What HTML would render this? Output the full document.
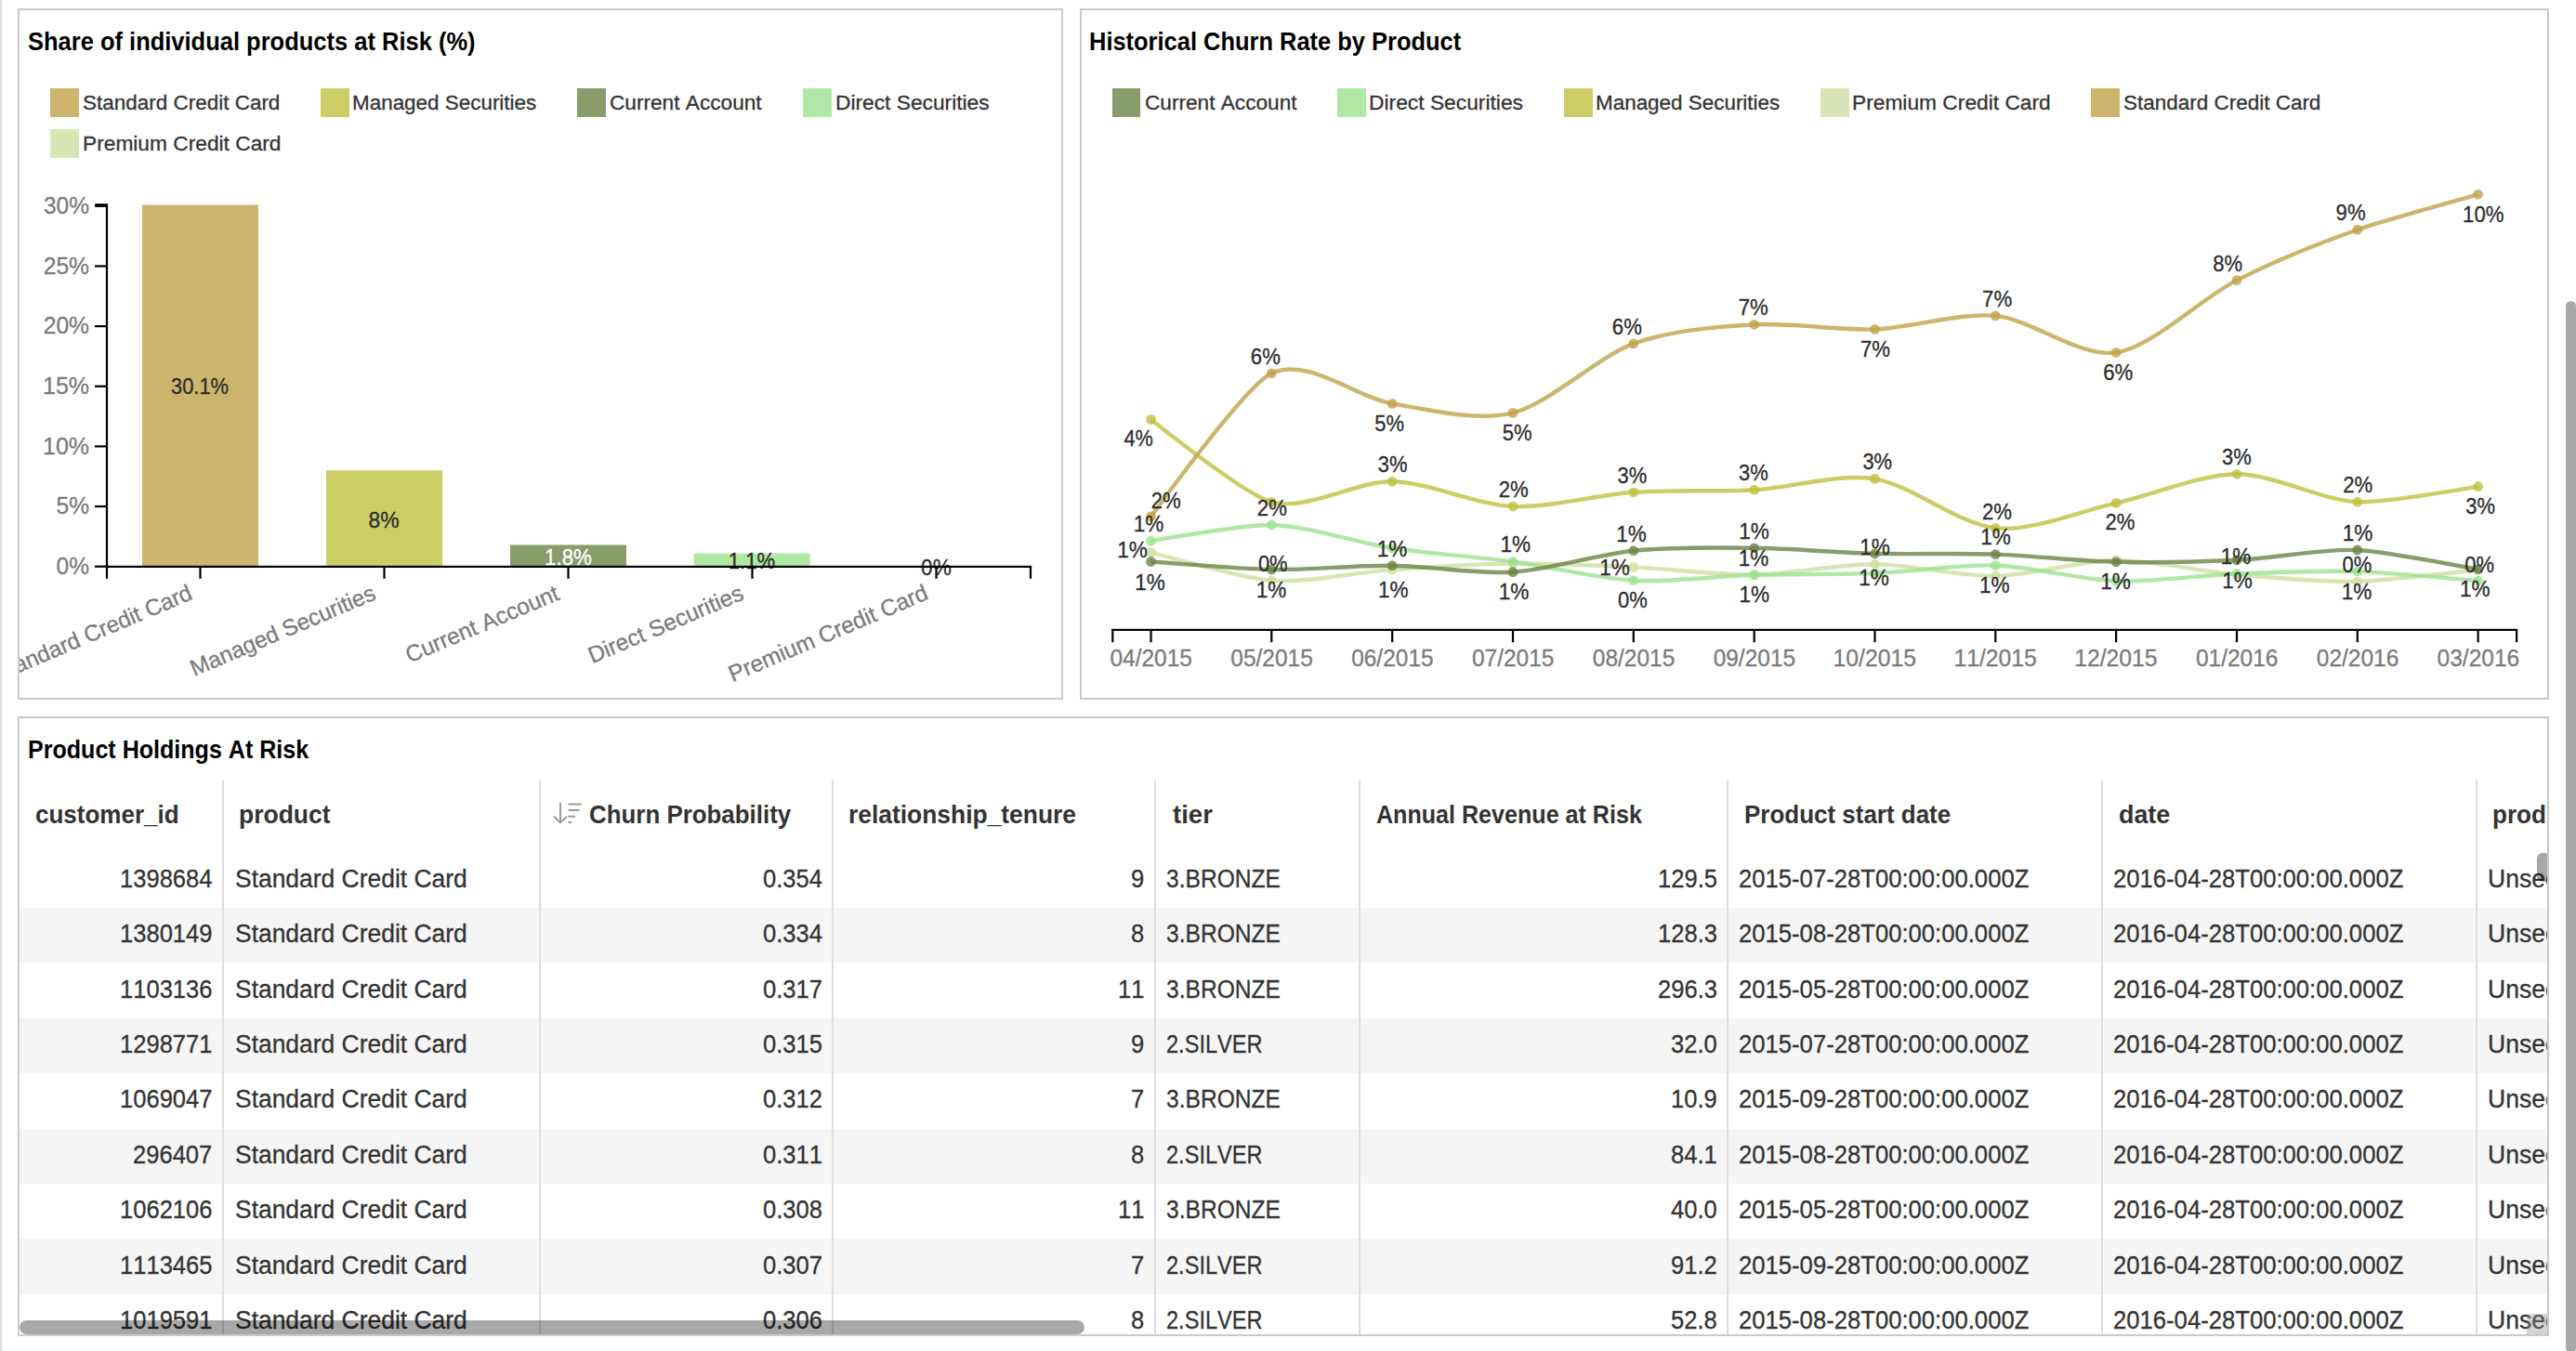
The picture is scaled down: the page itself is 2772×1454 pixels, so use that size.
<!DOCTYPE html>
<html lang="en"><head><meta charset="utf-8"><title>Churn dashboard</title>
<style>
*{box-sizing:border-box}
html,body{margin:0;padding:0}
html{background:#fff}
body{width:2772px;height:1454px;background:#fff;
 font-family:"Liberation Sans",Arial,Helvetica,sans-serif;color:#333;-webkit-font-smoothing:antialiased;font-kerning:none;font-variant-ligatures:none}
.page{position:relative;width:2772px;height:1454px;overflow:hidden;background:#fff}
.edge{position:absolute;left:0;top:0;width:2px;height:1454px;background:#dedede}
.tile{position:absolute;border:2px solid #cacaca;background:#fff;overflow:hidden}
.tile>.in{position:absolute;left:0;top:0;right:0;bottom:0}
.t{position:absolute;white-space:pre;transform-origin:0 50%;margin:0;font-weight:400;-webkit-text-stroke:.3px currentColor}
h2.t,.th .t{-webkit-text-stroke:0}
.chart text{stroke-width:.3px}
.vlab text{stroke:#2c2c2c;fill:#2c2c2c}
.vlab text.inv{stroke:#fff;fill:#fff}
.ylab text,.xlab text{stroke:#7b7b7b}
h2.t{color:#000}
.legend{list-style:none;margin:0;padding:0}
.legend li{display:block}
.sw{position:absolute;width:31px;height:31px}
.chart{position:absolute;left:0;top:0;font-family:"Liberation Sans",Arial,Helvetica,sans-serif;font-kerning:none}
.grid{position:absolute;overflow:hidden}
.thead,.tr{position:absolute;left:0;width:100%}
.thead{top:0}
.tr.even{background:#f5f5f5}
.th,.td{position:absolute;top:0;height:100%;overflow:hidden}
.sep{position:absolute;top:0;bottom:0;width:2px;background:#dedede}
.sort{position:absolute;left:13px;top:23.4px}
.hthumb{position:absolute;height:15px;border-radius:7.5px;background:rgba(0,0,0,.34)}
.vthumb{position:absolute;width:14px;height:31px;border-radius:6px;background:rgba(0,0,0,.34)}
.corner{position:absolute;width:22px;height:22px;background:rgba(141,141,141,.38)}
.pagebar{position:absolute;left:2761px;top:324px;width:11px;height:1132px;border-radius:5.5px;background:#a8a8a8}
</style></head><body><main class="page">
<div class="edge"></div>
<section class="tile" id="tile-share" style="left:19px;top:9px;width:1125px;height:744px"><div class="in">
<h2 class="t" style="left:9.37px;top:18px;font-size:26.8px;line-height:32px;transform:scaleX(0.9512);font-weight:700;color:#000;">Share of individual products at Risk (%)</h2>
<ul class="legend">
<li><i class="sw" style="left:33px;top:84px;background:#cdb56d"></i><span class="t" style="left:68.28px;top:85px;font-size:22.7px;line-height:28px;transform:scaleX(0.9906);">Standard Credit Card</span></li>
<li><i class="sw" style="left:324px;top:84px;background:#cccd66"></i><span class="t" style="left:358.36px;top:85px;font-size:22.7px;line-height:28px;transform:scaleX(0.9886);">Managed Securities</span></li>
<li><i class="sw" style="left:600px;top:84px;background:#899c6b"></i><span class="t" style="left:635.15px;top:85px;font-size:22.7px;line-height:28px;transform:scaleX(0.9981);">Current Account</span></li>
<li><i class="sw" style="left:843px;top:84px;background:#b0e8a6"></i><span class="t" style="left:877.63px;top:85px;font-size:22.7px;line-height:28px;transform:scaleX(1.0027);">Direct Securities</span></li>
<li><i class="sw" style="left:33px;top:128px;background:#dae5b5"></i><span class="t" style="left:67.73px;top:129px;font-size:22.7px;line-height:28px;transform:scaleX(1.0021);">Premium Credit Card</span></li>
</ul>
<svg class="chart" width="1121" height="740" viewBox="21 11 1121 740" role="img" aria-label="Share of individual products at Risk">
<g class="bars">
<rect x="153" y="220.51" width="125" height="389.69" fill="#cdb56d"/>
<rect x="351" y="506.26" width="125" height="103.94" fill="#cccd66"/>
<rect x="549" y="586.43" width="125" height="23.77" fill="#899c6b"/>
<rect x="746.7" y="595.48" width="125" height="14.72" fill="#b0e8a6"/>
</g>
<g class="ylab" fill="#7b7b7b">
<text font-size="25.4" transform="translate(60.54,617.90) scale(0.9680,1)">0%</text>
<text font-size="25.4" transform="translate(60.51,553.25) scale(0.9687,1)">5%</text>
<text font-size="25.4" transform="translate(45.99,488.60) scale(0.9855,1)">10%</text>
<text font-size="25.4" transform="translate(45.99,423.95) scale(0.9855,1)">15%</text>
<text font-size="25.4" transform="translate(46.66,359.30) scale(0.9722,1)">20%</text>
<text font-size="25.4" transform="translate(46.66,294.65) scale(0.9722,1)">25%</text>
<text font-size="25.4" transform="translate(46.97,230.00) scale(0.9660,1)">30%</text>
</g>
<g class="xlab" fill="#7b7b7b">
<text font-size="24.7" transform="translate(207.10,644.80) rotate(-23) scale(0.9814,1)" x="-231.80" y="0">Standard Credit Card</text>
<text font-size="24.7" transform="translate(405.10,644.80) rotate(-23) scale(0.9795,1)" x="-217.42" y="0">Managed Securities</text>
<text font-size="24.7" transform="translate(603.10,644.80) rotate(-23) scale(0.9895,1)" x="-178.29" y="0">Current Account</text>
<text font-size="24.7" transform="translate(801.10,644.80) rotate(-23) scale(0.9952,1)" x="-178.92" y="0">Direct Securities</text>
<text font-size="24.7" transform="translate(999.10,644.80) rotate(-23) scale(0.9938,1)" x="-230.37" y="0">Premium Credit Card</text>
</g>
<g class="vlab" fill="#333">
<text font-size="23.4" transform="translate(183.97,424.00) scale(0.9362,1)">30.1%</text>
<text font-size="23.4" transform="translate(396.55,567.60) scale(0.9791,1)">8%</text>
<text class="inv" fill="#fff" font-size="23.4" transform="translate(586.11,607.80) scale(0.9503,1)">1.8%</text>
<text font-size="23.4" transform="translate(783.81,611.70) scale(0.9464,1)">1.1%</text>
<text font-size="23.4" transform="translate(991.12,618.80) scale(0.9666,1)">0%</text>
</g>
<g class="axis" fill="#000">
<rect x="113.9" y="219.2" width="2.2" height="391.8"/>
<rect x="102" y="219.2" width="12" height="2.2"/>
<rect x="102" y="608.60" width="13" height="2.2"/>
<rect x="102" y="543.95" width="13" height="2.2"/>
<rect x="102" y="479.30" width="13" height="2.2"/>
<rect x="102" y="414.65" width="13" height="2.2"/>
<rect x="102" y="350.00" width="13" height="2.2"/>
<rect x="102" y="285.35" width="13" height="2.2"/>
<rect x="102" y="220.70" width="13" height="2.2"/>
<rect x="113.9" y="608.8" width="996.2" height="2.2"/>
<rect x="113.9" y="609" width="2.2" height="13.8"/>
<rect x="1107.9" y="609" width="2.2" height="13.8"/>
<rect x="214.4" y="609" width="2.2" height="13.8"/>
<rect x="412.4" y="609" width="2.2" height="13.8"/>
<rect x="610.4" y="609" width="2.2" height="13.8"/>
<rect x="808.4" y="609" width="2.2" height="13.8"/>
<rect x="1006.4" y="609" width="2.2" height="13.8"/>
</g>
</svg>
</div></section>
<section class="tile" id="tile-history" style="left:1162px;top:9px;width:1581px;height:744px"><div class="in">
<h2 class="t" style="left:7.60px;top:18px;font-size:26.8px;line-height:32px;transform:scaleX(0.9497);font-weight:700;color:#000;">Historical Churn Rate by Product</h2>
<ul class="legend">
<li><i class="sw" style="left:33px;top:84px;width:30px;background:#899c6b"></i><span class="t" style="left:67.75px;top:85px;font-size:22.7px;line-height:28px;transform:scaleX(0.9975);">Current Account</span></li>
<li><i class="sw" style="left:275px;top:84px;background:#b0e8a6"></i><span class="t" style="left:309.33px;top:85px;font-size:22.7px;line-height:28px;transform:scaleX(1.0051);">Direct Securities</span></li>
<li><i class="sw" style="left:519px;top:84px;background:#cccd66"></i><span class="t" style="left:553.16px;top:85px;font-size:22.7px;line-height:28px;transform:scaleX(0.9886);">Managed Securities</span></li>
<li><i class="sw" style="left:795px;top:84px;background:#dae5b5"></i><span class="t" style="left:829.43px;top:85px;font-size:22.7px;line-height:28px;transform:scaleX(1.0031);">Premium Credit Card</span></li>
<li><i class="sw" style="left:1086px;top:84px;background:#cdb56d"></i><span class="t" style="left:1120.98px;top:85px;font-size:22.7px;line-height:28px;transform:scaleX(0.9906);">Standard Credit Card</span></li>
</ul>
<svg class="chart" width="1577" height="740" viewBox="1164 11 1577 740" role="img" aria-label="Historical Churn Rate by Product">
<g class="serie" fill="#d1dea2" stroke="#d1dea2">
<path d="M1238.5,594.5Q1342.4,622.9,1368.3,624.8C1407.3,627.6,1459.2,615.8,1498.2,613.1S1589.0,606.9,1628.0,606.5S1718.9,608.6,1757.8,610.4S1848.7,618.9,1887.7,618.4S1978.5,607.0,2017.5,607.2S2108.4,620.5,2147.3,619.9S2238.2,603.2,2277.1,603.0S2368.0,615.0,2407.0,618.4S2497.9,626.6,2536.8,625.8Q2562.8,625.3,2666.6,613.2" fill="none" stroke-width="4.4" stroke-opacity="0.8"/>
<circle cx="1238.5" cy="594.5" r="5.4" stroke="none" fill-opacity="0.8"/>
<circle cx="1368.3" cy="624.8" r="5.4" stroke="none" fill-opacity="0.8"/>
<circle cx="1498.2" cy="613.1" r="5.4" stroke="none" fill-opacity="0.8"/>
<circle cx="1628.0" cy="606.5" r="5.4" stroke="none" fill-opacity="0.8"/>
<circle cx="1757.8" cy="610.4" r="5.4" stroke="none" fill-opacity="0.8"/>
<circle cx="1887.7" cy="618.4" r="5.4" stroke="none" fill-opacity="0.8"/>
<circle cx="2017.5" cy="607.2" r="5.4" stroke="none" fill-opacity="0.8"/>
<circle cx="2147.3" cy="619.9" r="5.4" stroke="none" fill-opacity="0.8"/>
<circle cx="2277.1" cy="603.0" r="5.4" stroke="none" fill-opacity="0.8"/>
<circle cx="2407.0" cy="618.4" r="5.4" stroke="none" fill-opacity="0.8"/>
<circle cx="2536.8" cy="625.8" r="5.4" stroke="none" fill-opacity="0.8"/>
<circle cx="2666.6" cy="613.2" r="5.4" stroke="none" fill-opacity="0.8"/>
</g>
<g class="serie" fill="#9ce290" stroke="#9ce290">
<path d="M1238.5,582.2Q1342.4,564.2,1368.3,565.0C1407.3,566.1,1459.2,583.9,1498.2,589.8S1589.0,599.3,1628.0,604.5S1718.9,622.6,1757.8,624.7S1848.7,620.0,1887.7,618.8S1978.5,618.4,2017.5,616.9S2108.4,607.2,2147.3,608.5S2238.2,623.9,2277.1,625.3S2368.0,619.0,2407.0,617.5S2497.9,613.9,2536.8,615.0Q2562.8,615.8,2666.6,625.1" fill="none" stroke-width="4.4" stroke-opacity="0.8"/>
<circle cx="1238.5" cy="582.2" r="5.4" stroke="none" fill-opacity="0.8"/>
<circle cx="1368.3" cy="565.0" r="5.4" stroke="none" fill-opacity="0.8"/>
<circle cx="1498.2" cy="589.8" r="5.4" stroke="none" fill-opacity="0.8"/>
<circle cx="1628.0" cy="604.5" r="5.4" stroke="none" fill-opacity="0.8"/>
<circle cx="1757.8" cy="624.7" r="5.4" stroke="none" fill-opacity="0.8"/>
<circle cx="1887.7" cy="618.8" r="5.4" stroke="none" fill-opacity="0.8"/>
<circle cx="2017.5" cy="616.9" r="5.4" stroke="none" fill-opacity="0.8"/>
<circle cx="2147.3" cy="608.5" r="5.4" stroke="none" fill-opacity="0.8"/>
<circle cx="2277.1" cy="625.3" r="5.4" stroke="none" fill-opacity="0.8"/>
<circle cx="2407.0" cy="617.5" r="5.4" stroke="none" fill-opacity="0.8"/>
<circle cx="2536.8" cy="615.0" r="5.4" stroke="none" fill-opacity="0.8"/>
<circle cx="2666.6" cy="625.1" r="5.4" stroke="none" fill-opacity="0.8"/>
</g>
<g class="serie" fill="#6c8346" stroke="#6c8346">
<path d="M1238.5,604.5Q1342.4,612.6,1368.3,613.0C1407.3,613.6,1459.2,608.3,1498.2,608.7S1589.0,618.1,1628.0,615.7S1718.9,596.6,1757.8,592.7S1848.7,589.3,1887.7,589.8S1978.5,594.8,2017.5,595.8S2108.4,595.2,2147.3,596.6S2238.2,603.9,2277.1,604.8S2368.0,604.7,2407.0,602.8S2497.9,590.5,2536.8,592.0Q2562.8,593.0,2666.6,612.8" fill="none" stroke-width="4.4" stroke-opacity="0.8"/>
<circle cx="1238.5" cy="604.5" r="5.4" stroke="none" fill-opacity="0.8"/>
<circle cx="1368.3" cy="613.0" r="5.4" stroke="none" fill-opacity="0.8"/>
<circle cx="1498.2" cy="608.7" r="5.4" stroke="none" fill-opacity="0.8"/>
<circle cx="1628.0" cy="615.7" r="5.4" stroke="none" fill-opacity="0.8"/>
<circle cx="1757.8" cy="592.7" r="5.4" stroke="none" fill-opacity="0.8"/>
<circle cx="1887.7" cy="589.8" r="5.4" stroke="none" fill-opacity="0.8"/>
<circle cx="2017.5" cy="595.8" r="5.4" stroke="none" fill-opacity="0.8"/>
<circle cx="2147.3" cy="596.6" r="5.4" stroke="none" fill-opacity="0.8"/>
<circle cx="2277.1" cy="604.8" r="5.4" stroke="none" fill-opacity="0.8"/>
<circle cx="2407.0" cy="602.8" r="5.4" stroke="none" fill-opacity="0.8"/>
<circle cx="2536.8" cy="592.0" r="5.4" stroke="none" fill-opacity="0.8"/>
<circle cx="2666.6" cy="612.8" r="5.4" stroke="none" fill-opacity="0.8"/>
</g>
<g class="serie" fill="#bfc040" stroke="#bfc040">
<path d="M1238.5,451.5Q1342.4,533.6,1368.3,540.3C1407.3,550.3,1459.2,517.6,1498.2,518.3S1589.0,543.3,1628.0,545.0S1718.9,532.5,1757.8,529.8S1848.7,529.4,1887.7,527.2S1978.5,509.2,2017.5,515.4S2108.4,564.5,2147.3,568.4S2238.2,550.1,2277.1,541.4S2368.0,510.5,2407.0,510.3S2497.9,538.2,2536.8,540.2Q2562.8,541.5,2666.6,523.7" fill="none" stroke-width="4.4" stroke-opacity="0.8"/>
<circle cx="1238.5" cy="451.5" r="5.4" stroke="none" fill-opacity="0.8"/>
<circle cx="1368.3" cy="540.3" r="5.4" stroke="none" fill-opacity="0.8"/>
<circle cx="1498.2" cy="518.3" r="5.4" stroke="none" fill-opacity="0.8"/>
<circle cx="1628.0" cy="545.0" r="5.4" stroke="none" fill-opacity="0.8"/>
<circle cx="1757.8" cy="529.8" r="5.4" stroke="none" fill-opacity="0.8"/>
<circle cx="1887.7" cy="527.2" r="5.4" stroke="none" fill-opacity="0.8"/>
<circle cx="2017.5" cy="515.4" r="5.4" stroke="none" fill-opacity="0.8"/>
<circle cx="2147.3" cy="568.4" r="5.4" stroke="none" fill-opacity="0.8"/>
<circle cx="2277.1" cy="541.4" r="5.4" stroke="none" fill-opacity="0.8"/>
<circle cx="2407.0" cy="510.3" r="5.4" stroke="none" fill-opacity="0.8"/>
<circle cx="2536.8" cy="540.2" r="5.4" stroke="none" fill-opacity="0.8"/>
<circle cx="2666.6" cy="523.7" r="5.4" stroke="none" fill-opacity="0.8"/>
</g>
<g class="serie" fill="#c0a248" stroke="#c0a248">
<path d="M1238.5,556.0Q1342.4,414.0,1368.3,401.8C1407.3,383.6,1459.2,428.0,1498.2,434.4S1589.0,454.1,1628.0,444.4S1718.9,384.2,1757.8,369.9S1848.7,351.6,1887.7,349.3S1978.5,355.8,2017.5,354.4S2108.4,336.1,2147.3,339.9S2238.2,385.1,2277.1,379.4S2368.0,321.4,2407.0,301.6S2497.9,261.0,2536.8,247.2Q2562.8,238.0,2666.6,209.3" fill="none" stroke-width="4.4" stroke-opacity="0.8"/>
<circle cx="1238.5" cy="556.0" r="5.4" stroke="none" fill-opacity="0.8"/>
<circle cx="1368.3" cy="401.8" r="5.4" stroke="none" fill-opacity="0.8"/>
<circle cx="1498.2" cy="434.4" r="5.4" stroke="none" fill-opacity="0.8"/>
<circle cx="1628.0" cy="444.4" r="5.4" stroke="none" fill-opacity="0.8"/>
<circle cx="1757.8" cy="369.9" r="5.4" stroke="none" fill-opacity="0.8"/>
<circle cx="1887.7" cy="349.3" r="5.4" stroke="none" fill-opacity="0.8"/>
<circle cx="2017.5" cy="354.4" r="5.4" stroke="none" fill-opacity="0.8"/>
<circle cx="2147.3" cy="339.9" r="5.4" stroke="none" fill-opacity="0.8"/>
<circle cx="2277.1" cy="379.4" r="5.4" stroke="none" fill-opacity="0.8"/>
<circle cx="2407.0" cy="301.6" r="5.4" stroke="none" fill-opacity="0.8"/>
<circle cx="2536.8" cy="247.2" r="5.4" stroke="none" fill-opacity="0.8"/>
<circle cx="2666.6" cy="209.3" r="5.4" stroke="none" fill-opacity="0.8"/>
</g>
<g class="vlab" fill="#333">
<text font-size="23.4" transform="translate(1209.55,480.40) scale(0.9276,1)">4%</text>
<text font-size="23.4" transform="translate(1238.64,547.00) scale(0.9463,1)">2%</text>
<text font-size="23.4" transform="translate(1219.83,572.30) scale(0.9646,1)">1%</text>
<text font-size="23.4" transform="translate(1202.23,600.40) scale(0.9646,1)">1%</text>
<text font-size="23.4" transform="translate(1221.23,634.60) scale(0.9646,1)">1%</text>
<text font-size="23.4" transform="translate(1345.83,392.00) scale(0.9466,1)">6%</text>
<text font-size="23.4" transform="translate(1352.84,555.40) scale(0.9463,1)">2%</text>
<text font-size="23.4" transform="translate(1353.89,615.00) scale(0.9385,1)">0%</text>
<text font-size="23.4" transform="translate(1351.83,642.50) scale(0.9646,1)">1%</text>
<text font-size="23.4" transform="translate(1479.37,464.20) scale(0.9392,1)">5%</text>
<text font-size="23.4" transform="translate(1482.71,508.20) scale(0.9378,1)">3%</text>
<text font-size="23.4" transform="translate(1481.83,599.20) scale(0.9646,1)">1%</text>
<text font-size="23.4" transform="translate(1482.93,642.50) scale(0.9646,1)">1%</text>
<text font-size="23.4" transform="translate(1616.67,473.70) scale(0.9392,1)">5%</text>
<text font-size="23.4" transform="translate(1612.74,535.00) scale(0.9463,1)">2%</text>
<text font-size="23.4" transform="translate(1614.43,594.00) scale(0.9646,1)">1%</text>
<text font-size="23.4" transform="translate(1612.73,645.20) scale(0.9646,1)">1%</text>
<text font-size="23.4" transform="translate(1734.83,360.00) scale(0.9466,1)">6%</text>
<text font-size="23.4" transform="translate(1740.61,519.90) scale(0.9378,1)">3%</text>
<text font-size="23.4" transform="translate(1739.33,582.90) scale(0.9646,1)">1%</text>
<text font-size="23.4" transform="translate(1721.13,618.90) scale(0.9646,1)">1%</text>
<text font-size="23.4" transform="translate(1740.99,653.70) scale(0.9385,1)">0%</text>
<text font-size="23.4" transform="translate(1870.71,339.40) scale(0.9469,1)">7%</text>
<text font-size="23.4" transform="translate(1871.01,517.00) scale(0.9378,1)">3%</text>
<text font-size="23.4" transform="translate(1871.33,580.00) scale(0.9646,1)">1%</text>
<text font-size="23.4" transform="translate(1870.73,608.60) scale(0.9646,1)">1%</text>
<text font-size="23.4" transform="translate(1871.43,648.10) scale(0.9646,1)">1%</text>
<text font-size="23.4" transform="translate(2001.91,383.80) scale(0.9469,1)">7%</text>
<text font-size="23.4" transform="translate(2004.41,504.80) scale(0.9378,1)">3%</text>
<text font-size="23.4" transform="translate(2001.23,596.90) scale(0.9646,1)">1%</text>
<text font-size="23.4" transform="translate(2000.23,630.40) scale(0.9646,1)">1%</text>
<text font-size="23.4" transform="translate(2133.11,329.90) scale(0.9469,1)">7%</text>
<text font-size="23.4" transform="translate(2132.94,558.70) scale(0.9463,1)">2%</text>
<text font-size="23.4" transform="translate(2131.13,586.30) scale(0.9646,1)">1%</text>
<text font-size="23.4" transform="translate(2130.03,638.40) scale(0.9646,1)">1%</text>
<text font-size="23.4" transform="translate(2263.23,409.20) scale(0.9466,1)">6%</text>
<text font-size="23.4" transform="translate(2265.54,570.10) scale(0.9463,1)">2%</text>
<text font-size="23.4" transform="translate(2260.33,634.20) scale(0.9646,1)">1%</text>
<text font-size="23.4" transform="translate(2381.19,292.40) scale(0.9415,1)">8%</text>
<text font-size="23.4" transform="translate(2391.11,500.10) scale(0.9378,1)">3%</text>
<text font-size="23.4" transform="translate(2389.83,607.40) scale(0.9646,1)">1%</text>
<text font-size="23.4" transform="translate(2391.23,632.50) scale(0.9646,1)">1%</text>
<text font-size="23.4" transform="translate(2513.61,237.30) scale(0.9439,1)">9%</text>
<text font-size="23.4" transform="translate(2521.14,530.10) scale(0.9463,1)">2%</text>
<text font-size="23.4" transform="translate(2520.83,582.20) scale(0.9646,1)">1%</text>
<text font-size="23.4" transform="translate(2520.59,615.90) scale(0.9385,1)">0%</text>
<text font-size="23.4" transform="translate(2519.73,645.10) scale(0.9646,1)">1%</text>
<text font-size="23.4" transform="translate(2650.06,238.60) scale(0.9476,1)">10%</text>
<text font-size="23.4" transform="translate(2653.21,553.00) scale(0.9378,1)">3%</text>
<text font-size="23.4" transform="translate(2652.29,615.90) scale(0.9385,1)">0%</text>
<text font-size="23.4" transform="translate(2646.93,642.30) scale(0.9646,1)">1%</text>
</g>
<g class="axis" fill="#000">
<rect x="1196.2" y="676.8" width="1513.0" height="2.2"/>
<rect x="1196.2" y="677" width="2.2" height="14.2"/>
<rect x="2707" y="677" width="2.2" height="14.2"/>
<rect x="1237.4" y="677" width="2.2" height="14.2"/>
<rect x="1367.2" y="677" width="2.2" height="14.2"/>
<rect x="1497.1" y="677" width="2.2" height="14.2"/>
<rect x="1626.9" y="677" width="2.2" height="14.2"/>
<rect x="1756.7" y="677" width="2.2" height="14.2"/>
<rect x="1886.6" y="677" width="2.2" height="14.2"/>
<rect x="2016.4" y="677" width="2.2" height="14.2"/>
<rect x="2146.2" y="677" width="2.2" height="14.2"/>
<rect x="2276.0" y="677" width="2.2" height="14.2"/>
<rect x="2405.9" y="677" width="2.2" height="14.2"/>
<rect x="2535.7" y="677" width="2.2" height="14.2"/>
<rect x="2665.5" y="677" width="2.2" height="14.2"/>
</g>
<g class="xlab" fill="#7b7b7b">
<text font-size="25.4" transform="translate(1194.49,716.90) scale(0.9637,1)">04/2015</text>
<text font-size="25.4" transform="translate(1324.32,716.90) scale(0.9637,1)">05/2015</text>
<text font-size="25.4" transform="translate(1454.15,716.90) scale(0.9637,1)">06/2015</text>
<text font-size="25.4" transform="translate(1583.98,716.90) scale(0.9637,1)">07/2015</text>
<text font-size="25.4" transform="translate(1713.81,716.90) scale(0.9637,1)">08/2015</text>
<text font-size="25.4" transform="translate(1843.64,716.90) scale(0.9637,1)">09/2015</text>
<text font-size="25.4" transform="translate(1972.55,716.90) scale(0.9740,1)">10/2015</text>
<text font-size="25.4" transform="translate(2102.38,716.90) scale(0.9740,1)">11/2015</text>
<text font-size="25.4" transform="translate(2232.21,716.90) scale(0.9740,1)">12/2015</text>
<text font-size="25.4" transform="translate(2362.96,716.90) scale(0.9643,1)">01/2016</text>
<text font-size="25.4" transform="translate(2492.79,716.90) scale(0.9643,1)">02/2016</text>
<text font-size="25.4" transform="translate(2622.62,716.90) scale(0.9643,1)">03/2016</text>
</g>
</svg>
</div></section>
<section class="tile" id="tile-holdings" style="left:19px;top:771px;width:2724px;height:667px"><div class="in">
<h2 class="t" style="left:8.62px;top:18px;font-size:26.8px;line-height:32px;transform:scaleX(0.9352);font-weight:700;color:#000;">Product Holdings At Risk</h2>
<div class="grid" style="left:0px;top:65.6px;width:2720px;height:597.4px">
<div class="thead" style="height:79.0px">
<div class="th" style="left:0.0px;width:219.0px"><span class="t" style="left:16.98px;top:22.4px;font-size:26.8px;line-height:32px;transform:scaleX(0.9703);font-weight:700;">customer_id</span></div>
<div class="th" style="left:219.0px;width:341.0px"><span class="t" style="left:17.35px;top:22.4px;font-size:26.8px;line-height:32px;transform:scaleX(0.9883);font-weight:700;">product</span></div>
<div class="th" style="left:560.0px;width:315.0px"><svg class="sort" width="34" height="26" viewBox="594 862 34 26" aria-hidden="true"><g fill="none" stroke="#999" stroke-width="2" stroke-linecap="round" stroke-linejoin="round"><path d="M603 864.8V885M596.6 879.2L603 885.4L609.4 879.2"/><path d="M612.2 865.5H625M612.2 872.1H622.8M612.2 878.7H618.2M612.2 885.1H614"/></g></svg><span class="t" style="left:53.24px;top:22.4px;font-size:26.8px;line-height:32px;transform:scaleX(0.9661);font-weight:700;">Churn Probability</span></div>
<div class="th" style="left:875.0px;width:347.0px"><span class="t" style="left:16.86px;top:22.4px;font-size:26.8px;line-height:32px;transform:scaleX(0.9853);font-weight:700;">relationship_tenure</span></div>
<div class="th" style="left:1222.0px;width:220.0px"><span class="t" style="left:18.76px;top:22.4px;font-size:26.8px;line-height:32px;transform:scaleX(1.0275);font-weight:700;">tier</span></div>
<div class="th" style="left:1442.0px;width:396.0px"><span class="t" style="left:17.78px;top:22.4px;font-size:26.8px;line-height:32px;transform:scaleX(0.9364);font-weight:700;">Annual Revenue at Risk</span></div>
<div class="th" style="left:1838.0px;width:403.0px"><span class="t" style="left:17.86px;top:22.4px;font-size:26.8px;line-height:32px;transform:scaleX(0.9690);font-weight:700;">Product start date</span></div>
<div class="th" style="left:2241.0px;width:402.6px"><span class="t" style="left:17.70px;top:22.4px;font-size:26.8px;line-height:32px;transform:scaleX(1.0021);font-weight:700;">date</span></div>
<div class="th" style="left:2643.6px;width:76.4px"><span class="t" style="left:17.48px;top:22.4px;font-size:26.8px;line-height:32px;transform:scaleX(0.9720);font-weight:700;">product_type</span></div>
</div>
<div class="tr odd" style="top:79.0px;height:59.4px">
<div class="td" style="left:0.0px;width:219.0px"><span class="t" style="left:107.97px;top:12.4px;font-size:26.8px;line-height:32px;transform:scaleX(0.9540);">1398684</span></div>
<div class="td" style="left:219.0px;width:341.0px"><span class="t" style="left:12.60px;top:12.4px;font-size:26.8px;line-height:32px;transform:scaleX(0.9864);">Standard Credit Card</span></div>
<div class="td" style="left:560.0px;width:315.0px"><span class="t" style="left:239.52px;top:12.4px;font-size:26.8px;line-height:32px;transform:scaleX(0.9540);">0.354</span></div>
<div class="td" style="left:875.0px;width:347.0px"><span class="t" style="left:321.28px;top:12.4px;font-size:26.8px;line-height:32px;transform:scaleX(0.9540);">9</span></div>
<div class="td" style="left:1222.0px;width:220.0px"><span class="t" style="left:12.16px;top:12.4px;font-size:26.8px;line-height:32px;transform:scaleX(0.9177);">3.BRONZE</span></div>
<div class="td" style="left:1442.0px;width:396.0px"><span class="t" style="left:320.52px;top:12.4px;font-size:26.8px;line-height:32px;transform:scaleX(0.9540);">129.5</span></div>
<div class="td" style="left:1838.0px;width:403.0px"><span class="t" style="left:11.61px;top:12.4px;font-size:26.8px;line-height:32px;transform:scaleX(0.9573);">2015-07-28T00:00:00.000Z</span></div>
<div class="td" style="left:2241.0px;width:402.6px"><span class="t" style="left:11.61px;top:12.4px;font-size:26.8px;line-height:32px;transform:scaleX(0.9573);">2016-04-28T00:00:00.000Z</span></div>
<div class="td" style="left:2643.6px;width:76.4px"><span class="t" style="left:11.95px;top:12.4px;font-size:26.8px;line-height:32px;transform:scaleX(0.9900);">Unsecured Lending</span></div>
</div>
<div class="tr even" style="top:138.4px;height:59.4px">
<div class="td" style="left:0.0px;width:219.0px"><span class="t" style="left:107.97px;top:12px;font-size:26.8px;line-height:32px;transform:scaleX(0.9540);">1380149</span></div>
<div class="td" style="left:219.0px;width:341.0px"><span class="t" style="left:12.60px;top:12px;font-size:26.8px;line-height:32px;transform:scaleX(0.9864);">Standard Credit Card</span></div>
<div class="td" style="left:560.0px;width:315.0px"><span class="t" style="left:239.52px;top:12px;font-size:26.8px;line-height:32px;transform:scaleX(0.9540);">0.334</span></div>
<div class="td" style="left:875.0px;width:347.0px"><span class="t" style="left:321.28px;top:12px;font-size:26.8px;line-height:32px;transform:scaleX(0.9540);">8</span></div>
<div class="td" style="left:1222.0px;width:220.0px"><span class="t" style="left:12.16px;top:12px;font-size:26.8px;line-height:32px;transform:scaleX(0.9177);">3.BRONZE</span></div>
<div class="td" style="left:1442.0px;width:396.0px"><span class="t" style="left:320.52px;top:12px;font-size:26.8px;line-height:32px;transform:scaleX(0.9540);">128.3</span></div>
<div class="td" style="left:1838.0px;width:403.0px"><span class="t" style="left:11.61px;top:12px;font-size:26.8px;line-height:32px;transform:scaleX(0.9573);">2015-08-28T00:00:00.000Z</span></div>
<div class="td" style="left:2241.0px;width:402.6px"><span class="t" style="left:11.61px;top:12px;font-size:26.8px;line-height:32px;transform:scaleX(0.9573);">2016-04-28T00:00:00.000Z</span></div>
<div class="td" style="left:2643.6px;width:76.4px"><span class="t" style="left:11.95px;top:12px;font-size:26.8px;line-height:32px;transform:scaleX(0.9900);">Unsecured Lending</span></div>
</div>
<div class="tr odd" style="top:197.8px;height:59.4px">
<div class="td" style="left:0.0px;width:219.0px"><span class="t" style="left:107.97px;top:12.6px;font-size:26.8px;line-height:32px;transform:scaleX(0.9540);">1103136</span></div>
<div class="td" style="left:219.0px;width:341.0px"><span class="t" style="left:12.60px;top:12.6px;font-size:26.8px;line-height:32px;transform:scaleX(0.9864);">Standard Credit Card</span></div>
<div class="td" style="left:560.0px;width:315.0px"><span class="t" style="left:239.52px;top:12.6px;font-size:26.8px;line-height:32px;transform:scaleX(0.9540);">0.317</span></div>
<div class="td" style="left:875.0px;width:347.0px"><span class="t" style="left:307.06px;top:12.6px;font-size:26.8px;line-height:32px;transform:scaleX(0.9540);">11</span></div>
<div class="td" style="left:1222.0px;width:220.0px"><span class="t" style="left:12.16px;top:12.6px;font-size:26.8px;line-height:32px;transform:scaleX(0.9177);">3.BRONZE</span></div>
<div class="td" style="left:1442.0px;width:396.0px"><span class="t" style="left:320.52px;top:12.6px;font-size:26.8px;line-height:32px;transform:scaleX(0.9540);">296.3</span></div>
<div class="td" style="left:1838.0px;width:403.0px"><span class="t" style="left:11.61px;top:12.6px;font-size:26.8px;line-height:32px;transform:scaleX(0.9573);">2015-05-28T00:00:00.000Z</span></div>
<div class="td" style="left:2241.0px;width:402.6px"><span class="t" style="left:11.61px;top:12.6px;font-size:26.8px;line-height:32px;transform:scaleX(0.9573);">2016-04-28T00:00:00.000Z</span></div>
<div class="td" style="left:2643.6px;width:76.4px"><span class="t" style="left:11.95px;top:12.6px;font-size:26.8px;line-height:32px;transform:scaleX(0.9900);">Unsecured Lending</span></div>
</div>
<div class="tr even" style="top:257.2px;height:59.4px">
<div class="td" style="left:0.0px;width:219.0px"><span class="t" style="left:107.97px;top:12.2px;font-size:26.8px;line-height:32px;transform:scaleX(0.9540);">1298771</span></div>
<div class="td" style="left:219.0px;width:341.0px"><span class="t" style="left:12.60px;top:12.2px;font-size:26.8px;line-height:32px;transform:scaleX(0.9864);">Standard Credit Card</span></div>
<div class="td" style="left:560.0px;width:315.0px"><span class="t" style="left:239.52px;top:12.2px;font-size:26.8px;line-height:32px;transform:scaleX(0.9540);">0.315</span></div>
<div class="td" style="left:875.0px;width:347.0px"><span class="t" style="left:321.28px;top:12.2px;font-size:26.8px;line-height:32px;transform:scaleX(0.9540);">9</span></div>
<div class="td" style="left:1222.0px;width:220.0px"><span class="t" style="left:11.91px;top:12.2px;font-size:26.8px;line-height:32px;transform:scaleX(0.8802);">2.SILVER</span></div>
<div class="td" style="left:1442.0px;width:396.0px"><span class="t" style="left:334.74px;top:12.2px;font-size:26.8px;line-height:32px;transform:scaleX(0.9540);">32.0</span></div>
<div class="td" style="left:1838.0px;width:403.0px"><span class="t" style="left:11.61px;top:12.2px;font-size:26.8px;line-height:32px;transform:scaleX(0.9573);">2015-07-28T00:00:00.000Z</span></div>
<div class="td" style="left:2241.0px;width:402.6px"><span class="t" style="left:11.61px;top:12.2px;font-size:26.8px;line-height:32px;transform:scaleX(0.9573);">2016-04-28T00:00:00.000Z</span></div>
<div class="td" style="left:2643.6px;width:76.4px"><span class="t" style="left:11.95px;top:12.2px;font-size:26.8px;line-height:32px;transform:scaleX(0.9900);">Unsecured Lending</span></div>
</div>
<div class="tr odd" style="top:316.6px;height:59.4px">
<div class="td" style="left:0.0px;width:219.0px"><span class="t" style="left:107.97px;top:11.8px;font-size:26.8px;line-height:32px;transform:scaleX(0.9540);">1069047</span></div>
<div class="td" style="left:219.0px;width:341.0px"><span class="t" style="left:12.60px;top:11.8px;font-size:26.8px;line-height:32px;transform:scaleX(0.9864);">Standard Credit Card</span></div>
<div class="td" style="left:560.0px;width:315.0px"><span class="t" style="left:239.52px;top:11.8px;font-size:26.8px;line-height:32px;transform:scaleX(0.9540);">0.312</span></div>
<div class="td" style="left:875.0px;width:347.0px"><span class="t" style="left:321.28px;top:11.8px;font-size:26.8px;line-height:32px;transform:scaleX(0.9540);">7</span></div>
<div class="td" style="left:1222.0px;width:220.0px"><span class="t" style="left:12.16px;top:11.8px;font-size:26.8px;line-height:32px;transform:scaleX(0.9177);">3.BRONZE</span></div>
<div class="td" style="left:1442.0px;width:396.0px"><span class="t" style="left:334.74px;top:11.8px;font-size:26.8px;line-height:32px;transform:scaleX(0.9540);">10.9</span></div>
<div class="td" style="left:1838.0px;width:403.0px"><span class="t" style="left:11.61px;top:11.8px;font-size:26.8px;line-height:32px;transform:scaleX(0.9573);">2015-09-28T00:00:00.000Z</span></div>
<div class="td" style="left:2241.0px;width:402.6px"><span class="t" style="left:11.61px;top:11.8px;font-size:26.8px;line-height:32px;transform:scaleX(0.9573);">2016-04-28T00:00:00.000Z</span></div>
<div class="td" style="left:2643.6px;width:76.4px"><span class="t" style="left:11.95px;top:11.8px;font-size:26.8px;line-height:32px;transform:scaleX(0.9900);">Unsecured Lending</span></div>
</div>
<div class="tr even" style="top:376.0px;height:59.4px">
<div class="td" style="left:0.0px;width:219.0px"><span class="t" style="left:122.18px;top:12.4px;font-size:26.8px;line-height:32px;transform:scaleX(0.9540);">296407</span></div>
<div class="td" style="left:219.0px;width:341.0px"><span class="t" style="left:12.60px;top:12.4px;font-size:26.8px;line-height:32px;transform:scaleX(0.9864);">Standard Credit Card</span></div>
<div class="td" style="left:560.0px;width:315.0px"><span class="t" style="left:239.52px;top:12.4px;font-size:26.8px;line-height:32px;transform:scaleX(0.9540);">0.311</span></div>
<div class="td" style="left:875.0px;width:347.0px"><span class="t" style="left:321.28px;top:12.4px;font-size:26.8px;line-height:32px;transform:scaleX(0.9540);">8</span></div>
<div class="td" style="left:1222.0px;width:220.0px"><span class="t" style="left:11.91px;top:12.4px;font-size:26.8px;line-height:32px;transform:scaleX(0.8802);">2.SILVER</span></div>
<div class="td" style="left:1442.0px;width:396.0px"><span class="t" style="left:334.74px;top:12.4px;font-size:26.8px;line-height:32px;transform:scaleX(0.9540);">84.1</span></div>
<div class="td" style="left:1838.0px;width:403.0px"><span class="t" style="left:11.61px;top:12.4px;font-size:26.8px;line-height:32px;transform:scaleX(0.9573);">2015-08-28T00:00:00.000Z</span></div>
<div class="td" style="left:2241.0px;width:402.6px"><span class="t" style="left:11.61px;top:12.4px;font-size:26.8px;line-height:32px;transform:scaleX(0.9573);">2016-04-28T00:00:00.000Z</span></div>
<div class="td" style="left:2643.6px;width:76.4px"><span class="t" style="left:11.95px;top:12.4px;font-size:26.8px;line-height:32px;transform:scaleX(0.9900);">Unsecured Lending</span></div>
</div>
<div class="tr odd" style="top:435.4px;height:59.4px">
<div class="td" style="left:0.0px;width:219.0px"><span class="t" style="left:107.97px;top:12px;font-size:26.8px;line-height:32px;transform:scaleX(0.9540);">1062106</span></div>
<div class="td" style="left:219.0px;width:341.0px"><span class="t" style="left:12.60px;top:12px;font-size:26.8px;line-height:32px;transform:scaleX(0.9864);">Standard Credit Card</span></div>
<div class="td" style="left:560.0px;width:315.0px"><span class="t" style="left:239.52px;top:12px;font-size:26.8px;line-height:32px;transform:scaleX(0.9540);">0.308</span></div>
<div class="td" style="left:875.0px;width:347.0px"><span class="t" style="left:307.06px;top:12px;font-size:26.8px;line-height:32px;transform:scaleX(0.9540);">11</span></div>
<div class="td" style="left:1222.0px;width:220.0px"><span class="t" style="left:12.16px;top:12px;font-size:26.8px;line-height:32px;transform:scaleX(0.9177);">3.BRONZE</span></div>
<div class="td" style="left:1442.0px;width:396.0px"><span class="t" style="left:334.74px;top:12px;font-size:26.8px;line-height:32px;transform:scaleX(0.9540);">40.0</span></div>
<div class="td" style="left:1838.0px;width:403.0px"><span class="t" style="left:11.61px;top:12px;font-size:26.8px;line-height:32px;transform:scaleX(0.9573);">2015-05-28T00:00:00.000Z</span></div>
<div class="td" style="left:2241.0px;width:402.6px"><span class="t" style="left:11.61px;top:12px;font-size:26.8px;line-height:32px;transform:scaleX(0.9573);">2016-04-28T00:00:00.000Z</span></div>
<div class="td" style="left:2643.6px;width:76.4px"><span class="t" style="left:11.95px;top:12px;font-size:26.8px;line-height:32px;transform:scaleX(0.9900);">Unsecured Lending</span></div>
</div>
<div class="tr even" style="top:494.8px;height:59.4px">
<div class="td" style="left:0.0px;width:219.0px"><span class="t" style="left:107.97px;top:12.6px;font-size:26.8px;line-height:32px;transform:scaleX(0.9540);">1113465</span></div>
<div class="td" style="left:219.0px;width:341.0px"><span class="t" style="left:12.60px;top:12.6px;font-size:26.8px;line-height:32px;transform:scaleX(0.9864);">Standard Credit Card</span></div>
<div class="td" style="left:560.0px;width:315.0px"><span class="t" style="left:239.52px;top:12.6px;font-size:26.8px;line-height:32px;transform:scaleX(0.9540);">0.307</span></div>
<div class="td" style="left:875.0px;width:347.0px"><span class="t" style="left:321.28px;top:12.6px;font-size:26.8px;line-height:32px;transform:scaleX(0.9540);">7</span></div>
<div class="td" style="left:1222.0px;width:220.0px"><span class="t" style="left:11.91px;top:12.6px;font-size:26.8px;line-height:32px;transform:scaleX(0.8802);">2.SILVER</span></div>
<div class="td" style="left:1442.0px;width:396.0px"><span class="t" style="left:334.74px;top:12.6px;font-size:26.8px;line-height:32px;transform:scaleX(0.9540);">91.2</span></div>
<div class="td" style="left:1838.0px;width:403.0px"><span class="t" style="left:11.61px;top:12.6px;font-size:26.8px;line-height:32px;transform:scaleX(0.9573);">2015-09-28T00:00:00.000Z</span></div>
<div class="td" style="left:2241.0px;width:402.6px"><span class="t" style="left:11.61px;top:12.6px;font-size:26.8px;line-height:32px;transform:scaleX(0.9573);">2016-04-28T00:00:00.000Z</span></div>
<div class="td" style="left:2643.6px;width:76.4px"><span class="t" style="left:11.95px;top:12.6px;font-size:26.8px;line-height:32px;transform:scaleX(0.9900);">Unsecured Lending</span></div>
</div>
<div class="tr odd" style="top:554.2px;height:59.4px">
<div class="td" style="left:0.0px;width:219.0px"><span class="t" style="left:107.97px;top:12.2px;font-size:26.8px;line-height:32px;transform:scaleX(0.9540);">1019591</span></div>
<div class="td" style="left:219.0px;width:341.0px"><span class="t" style="left:12.60px;top:12.2px;font-size:26.8px;line-height:32px;transform:scaleX(0.9864);">Standard Credit Card</span></div>
<div class="td" style="left:560.0px;width:315.0px"><span class="t" style="left:239.52px;top:12.2px;font-size:26.8px;line-height:32px;transform:scaleX(0.9540);">0.306</span></div>
<div class="td" style="left:875.0px;width:347.0px"><span class="t" style="left:321.28px;top:12.2px;font-size:26.8px;line-height:32px;transform:scaleX(0.9540);">8</span></div>
<div class="td" style="left:1222.0px;width:220.0px"><span class="t" style="left:11.91px;top:12.2px;font-size:26.8px;line-height:32px;transform:scaleX(0.8802);">2.SILVER</span></div>
<div class="td" style="left:1442.0px;width:396.0px"><span class="t" style="left:334.74px;top:12.2px;font-size:26.8px;line-height:32px;transform:scaleX(0.9540);">52.8</span></div>
<div class="td" style="left:1838.0px;width:403.0px"><span class="t" style="left:11.61px;top:12.2px;font-size:26.8px;line-height:32px;transform:scaleX(0.9573);">2015-08-28T00:00:00.000Z</span></div>
<div class="td" style="left:2241.0px;width:402.6px"><span class="t" style="left:11.61px;top:12.2px;font-size:26.8px;line-height:32px;transform:scaleX(0.9573);">2016-04-28T00:00:00.000Z</span></div>
<div class="td" style="left:2643.6px;width:76.4px"><span class="t" style="left:11.95px;top:12.2px;font-size:26.8px;line-height:32px;transform:scaleX(0.9900);">Unsecured Lending</span></div>
</div>
<i class="sep" style="left:218.0px"></i>
<i class="sep" style="left:559.0px"></i>
<i class="sep" style="left:874.0px"></i>
<i class="sep" style="left:1221.0px"></i>
<i class="sep" style="left:1441.0px"></i>
<i class="sep" style="left:1837.0px"></i>
<i class="sep" style="left:2240.0px"></i>
<i class="sep" style="left:2642.6px"></i>
<i class="vthumb" style="left:2709.2px;top:79.2px"></i>
<i class="corner" style="left:2698px;top:575.4px"></i>
<i class="hthumb" style="left:0px;top:582.4px;width:1146px"></i>
</div>
</div></section>
<div class="pagebar"></div>
</main></body></html>
